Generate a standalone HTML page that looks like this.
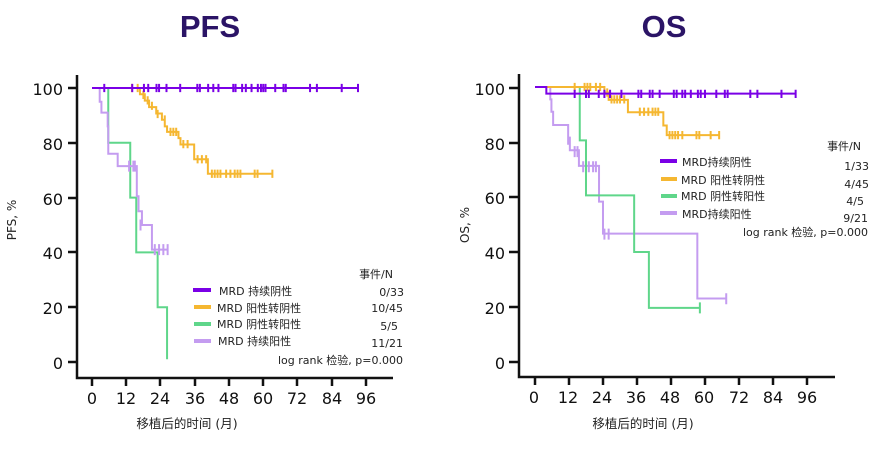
<!DOCTYPE html>
<html><head><meta charset="utf-8"><style>
body{margin:0;background:#fff;width:878px;height:444px;overflow:hidden}
svg text{font-family:"DejaVu Sans","Noto Sans CJK SC",sans-serif}
.d path{fill:none;vector-effect:non-scaling-stroke;stroke-width:2}
.t{font-size:16px;fill:#111}
.l{font-size:11px;fill:#222}
</style></head><body>
<svg width="878" height="444" viewBox="0 0 878 444">
<text x="210" y="37" text-anchor="middle" font-size="31" font-weight="bold" fill="#2b1466" style="font-family:'Liberation Sans',sans-serif">PFS</text>
<text x="664" y="37" text-anchor="middle" font-size="31" font-weight="bold" fill="#2b1466" style="font-family:'Liberation Sans',sans-serif">OS</text>

<g stroke="#111" stroke-width="2.5" fill="none">
<path d="M77 75V378H393"/>
<path d="M68 88H77M68 143H77M68 198H77M68 252H77M68 307H77M68 362H77"/>
<path d="M92 378v8M126 378v8M160 378v8M195 378v8M229 378v8M263 378v8M297 378v8M332 378v8M366 378v8"/>
</g>
<g class="t" text-anchor="end"><text x="63" y="95">100</text><text x="63" y="150">80</text><text x="63" y="205">60</text><text x="63" y="259">40</text><text x="63" y="314">20</text><text x="63" y="369">0</text></g>
<g class="t" text-anchor="middle"><text x="92" y="404">0</text><text x="126" y="404">12</text><text x="160" y="404">24</text><text x="195" y="404">36</text><text x="229" y="404">48</text><text x="263" y="404">60</text><text x="297" y="404">72</text><text x="332" y="404">84</text><text x="366" y="404">96</text></g>
<text transform="translate(16,220) rotate(-90)" text-anchor="middle" font-size="12" fill="#222">PFS, %</text>
<text x="187" y="428" text-anchor="middle" font-size="12.5" fill="#222">移植后的时间 (月)</text>

<g class="d" transform="translate(92,362) scale(2.854,-2.74)">
<path stroke="#5fd68a" d="M0 100H5.7V80H13.4V60H15.5V40H23V20H26.3V1"/>
<path stroke="#c49cf0" d="M0 100H2.7V95H3.3V91H5.5V86H5.7V76H9V71.5H15.7V60.5H16.3V55H17.5V50H21V41H26.5M13 73.5v-4M14.5 73.5v-4M15 73.5v-4M17 52v-4M22 43v-4M23.5 43v-4M25 43v-4M26.5 43v-4"/>
<path stroke="#f5b731" d="M0 100H16.8V97.7H18.5V95.4H20V93H22.5V90.7H24.5V88.4H25.5V86H26.3V84H30.3V81.7H31V79.4H35.8V74H40.6V68.7H63.2M14 101.5v-3M16 101.5v-3M18 99v-3M19.5 97v-3M21 95v-3M23 92v-3M25.5 90v-3M27.5 85.5v-3M28.5 85.5v-3M29.5 85.5v-3M32 81v-3M33.5 81v-3M37 75.5v-3M38.5 75.5v-3M40 75.5v-3M42 70.2v-3M43 70.2v-3M44 70.2v-3M45 70.2v-3M47 70.2v-3M48.5 70.2v-3M50 70.2v-3M51 70.2v-3M52 70.2v-3M57 70.2v-3M58 70.2v-3M63.2 70.2v-3"/>
<path stroke="#7a00e6" d="M0 100H93.2M4.3 101.5v-3M14.1 101.5v-3M18.2 101.5v-3M19.7 101.5v-3M22.6 101.5v-3M23.5 101.5v-3M26.1 101.5v-3M30.9 101.5v-3M36.9 101.5v-3M37.8 101.5v-3M40.7 101.5v-3M42.5 101.5v-3M44.3 101.5v-3M49.5 101.5v-3M50.3 101.5v-3M52.6 101.5v-3M53.9 101.5v-3M55.9 101.5v-3M58.1 101.5v-3M59.2 101.5v-3M60 101.5v-3M60.8 101.5v-3M64.2 101.5v-3M67.1 101.5v-3M67.9 101.5v-3M76.4 101.5v-3M78.8 101.5v-3M87.5 101.5v-3M93.2 101.5v-3"/>
</g>
<g stroke-width="4" fill="none"><path stroke="#7a00e6" d="M193 290H211"/><path stroke="#f5b731" d="M194 307H211"/><path stroke="#5fd68a" d="M194 324H211"/><path stroke="#c49cf0" d="M194 341H211"/></g>
<g class="l"><text x="219" y="295">MRD 持续阴性</text><text x="217" y="312">MRD 阳性转阴性</text><text x="217" y="328">MRD 阴性转阳性</text><text x="218" y="345">MRD 持续阳性</text></g>
<g class="l" text-anchor="end"><text x="393" y="278">事件/N</text><text x="404" y="296">0/33</text><text x="403" y="312">10/45</text><text x="398" y="330">5/5</text><text x="403" y="347">11/21</text><text x="403" y="364">log rank 检验, p=0.000</text></g>

<g stroke="#111" stroke-width="2.5" fill="none">
<path d="M519 74V377H835"/>
<path d="M509 88H519M509 143H519M509 197H519M509 252H519M509 307H519M509 362H519"/>
<path d="M535 377v8M569 377v8M603 377v8M637 377v8M671 377v8M705 377v8M739 377v8M773 377v8M807 377v8"/>
</g>
<g class="t" text-anchor="end"><text x="505" y="95">100</text><text x="505" y="150">80</text><text x="505" y="204">60</text><text x="505" y="259">40</text><text x="505" y="314">20</text><text x="505" y="369">0</text></g>
<g class="t" text-anchor="middle"><text x="534" y="403">0</text><text x="568" y="403">12</text><text x="602" y="403">24</text><text x="636" y="403">36</text><text x="670" y="403">48</text><text x="704" y="403">60</text><text x="739" y="403">72</text><text x="773" y="403">84</text><text x="807" y="403">96</text></g>
<text transform="translate(469,225) rotate(-90)" text-anchor="middle" font-size="12" fill="#222">OS, %</text>
<text x="643" y="428" text-anchor="middle" font-size="12.5" fill="#222">移植后的时间 (月)</text>

<g class="d" transform="translate(535,362) scale(2.833,-2.75)">
<path stroke="#c49cf0" d="M0 100H5.4V95.5H5.8V91H6.4V86.2H11.7V81.6H12.3V77H15.5V71.3H22.6V58.3H24V46.7H57.3V23.1H67.5M11.7 83v-4M14 78.5v-4M15 78.5v-4M17 73v-4M19 73v-4M20.5 73v-4M21.5 73v-4M24.5 48.5v-4M26 48.5v-4M67.5 25v-4"/>
<path stroke="#5fd68a" d="M0 100H15.8V80.6H18V60.6H35V40H40.2V19.7H58.2M58.2 21.7v-4"/>
<path stroke="#f5b731" d="M0 100H24.5V98H26V95.3H32.8V90.8H45.3V86H46.5V82.5H65M14 101.5v-3M17.5 101.5v-3M18.5 101.5v-3M19.5 101.5v-3M21.5 101.5v-3M23 101.5v-3M25.5 99.5v-3M27 97v-3M28 97v-3M29 97v-3M30 97v-3M31.5 97v-3M37 92.5v-3M38.5 92.5v-3M40 92.5v-3M41.5 92.5v-3M42.5 92.5v-3M43.5 92.5v-3M47.5 84v-3M48.5 84v-3M49.5 84v-3M50.5 84v-3M52 84v-3M57 84v-3M58 84v-3M62 84v-3M65 84v-3"/>
<path stroke="#7a00e6" d="M0 100H4V97.6H92M14 99v-3M18 99v-3M19 99v-3M22.5 99v-3M24.5 99v-3M26.5 99v-3M30.5 99v-3M36.5 99v-3M37.5 99v-3M40.5 99v-3M41.5 99v-3M44 99v-3M49 99v-3M50 99v-3M52 99v-3M53 99v-3M55 99v-3M57.5 99v-3M58.5 99v-3M60 99v-3M64 99v-3M67 99v-3M68 99v-3M76 99v-3M78.5 99v-3M87 99v-3M92 99v-3"/>
</g>
<g stroke-width="4" fill="none"><path stroke="#7a00e6" d="M660 161H677"/><path stroke="#f5b731" d="M661 179H677"/><path stroke="#5fd68a" d="M661 196H677"/><path stroke="#c49cf0" d="M660 213H677"/></g>
<g class="l"><text x="682" y="166">MRD持续阴性</text><text x="681" y="184">MRD 阳性转阴性</text><text x="681" y="200">MRD 阴性转阳性</text><text x="682" y="218">MRD持续阳性</text></g>
<g class="l" text-anchor="end"><text x="861" y="150">事件/N</text><text x="869" y="170">1/33</text><text x="869" y="188">4/45</text><text x="864" y="205">4/5</text><text x="868" y="222">9/21</text><text x="868" y="236">log rank 检验, p=0.000</text></g>
</svg>
</body></html>
